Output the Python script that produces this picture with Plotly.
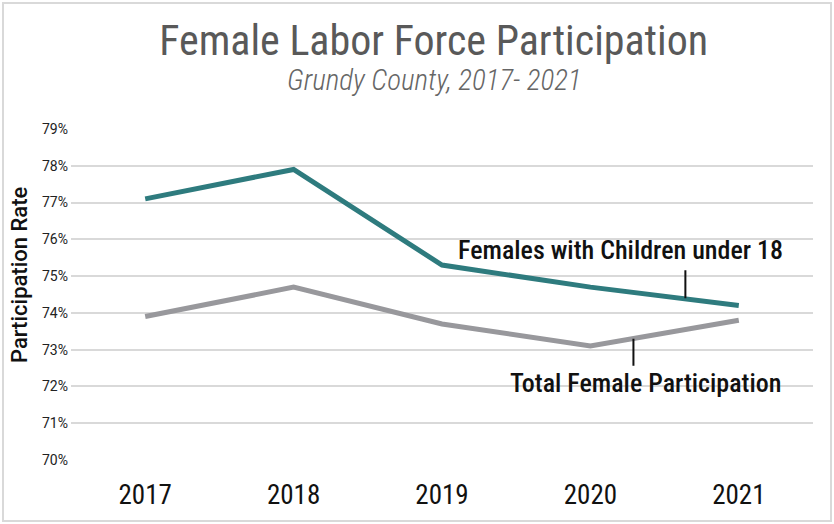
import plotly.graph_objects as go

years = [2017, 2018, 2019, 2020, 2021]
with_children = [77.1, 77.9, 75.3, 74.7, 74.2]
total_female = [73.9, 74.7, 73.7, 73.1, 73.8]
y_ticks = [70, 71, 72, 73, 74, 75, 76, 77, 78, 79]
y_labels = [str(v) + "%" for v in y_ticks]

TEAL = "#2e7b7e"
GRAY = "#98989c"
FONT = "Roboto Condensed, Roboto"

fig = go.Figure()
fig.add_trace(go.Scatter(x=years, y=total_female, mode="lines",
                         line=dict(color=GRAY, width=5),
                         name="Total Female Participation"))
fig.add_trace(go.Scatter(x=years, y=with_children, mode="lines",
                         line=dict(color=TEAL, width=5),
                         name="Females with Children under 18"))

# labels with short leader lines
fig.add_annotation(x=2020.2, y=75.7, text="Females with Children under 18",
                   showarrow=False, font=dict(family=FONT, size=26, color="#111111", weight=500))
fig.add_annotation(x=2020.64, y=74.4, text=" ", showarrow=True, arrowhead=0,
                   arrowwidth=2, arrowcolor="#111111", ax=0, ay=-38)
fig.add_annotation(x=2020.37, y=72.1, text="Total Female Participation",
                   showarrow=False, font=dict(family=FONT, size=26, color="#111111", weight=500))
fig.add_annotation(x=2020.29, y=73.3, text=" ", showarrow=True, arrowhead=0,
                   arrowwidth=2, arrowcolor="#111111", ax=0, ay=37)

# subtitle
fig.add_annotation(x=0.49, xref="paper", y=1.148, yref="paper", yanchor="middle",
                   text="<i>Grundy County, 2017- 2021</i>", showarrow=False,
                   font=dict(family=FONT, size=29, color="#666666", weight=300))

# y axis title as annotation (sits a little above the plot centre)
fig.add_annotation(x=-51 / 742, xref="paper", y=0.559, yref="paper", textangle=-90,
                   xanchor="center", yanchor="middle",
                   text="Participation Rate", showarrow=False,
                   font=dict(family="Roboto", size=22, color="#111111", weight=500))

# outer border
fig.add_shape(type="rect", xref="paper", yref="paper",
              x0=-68 / 742, x1=1 + 18 / 742, y0=-61 / 331, y1=1 + 126 / 331,
              line=dict(color="#d9d9d9", width=2))

fig.update_layout(
    width=834, height=524,
    paper_bgcolor="white", plot_bgcolor="white",
    margin=dict(l=71, r=21, t=129, b=64),
    showlegend=False,
    title=dict(text="Female Labor Force Participation", x=0.52, xanchor="center",
               y=0.923, yanchor="middle",
               font=dict(family=FONT, size=42, color="#595959")),
    xaxis=dict(range=[2016.5, 2021.5], tickvals=years, ticktext=[str(y) for y in years],
               showgrid=False, zeroline=False, showline=False,
               ticklabelstandoff=16,
               tickfont=dict(family=FONT, size=27, color="#111111")),
    yaxis=dict(range=[70, 79], tickvals=y_ticks, ticktext=y_labels,
               showgrid=True, gridcolor="#d9d9d9", gridwidth=1.5,
               zeroline=False, showline=False, ticklabelstandoff=2,
               tickfont=dict(family="Roboto", size=14, color="#222222")),
)

fig.write_html("out.html", config={"displayModeBar": False},
               post_script="document.body.style.margin='0px';")
